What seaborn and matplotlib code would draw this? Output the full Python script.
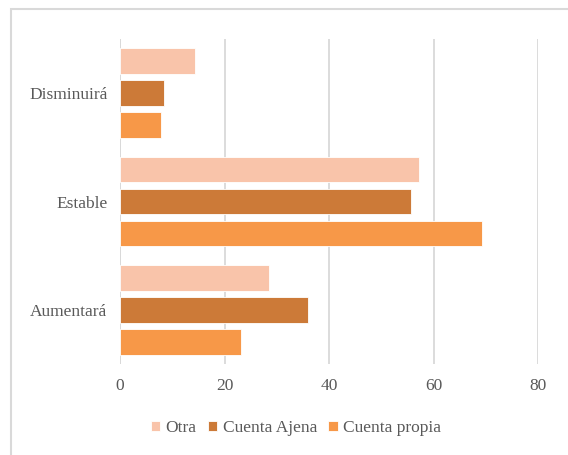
import matplotlib
matplotlib.use("Agg")
import matplotlib.pyplot as plt
import pandas as pd
import seaborn as sns
from matplotlib.patches import Rectangle

categories = ["Disminuirá", "Estable", "Aumentará"]
series_names = ["Otra", "Cuenta Ajena", "Cuenta propia"]
otra = [14.3, 57.2, 28.5]
cuenta_ajena = [8.4, 55.6, 36.0]
cuenta_propia = [7.8, 69.2, 23.1]
x_ticks = [0, 20, 40, 60, 80]
colors = ["#F9C4AA", "#CC7A38", "#F79848"]

df = pd.DataFrame({
    "categoria": categories * 3,
    "serie": [s for s in series_names for _ in categories],
    "valor": otra + cuenta_ajena + cuenta_propia,
})

sns.set_theme(style="white")
plt.rcParams["font.family"] = ["Liberation Serif", "DejaVu Serif"]
text_color = "#595959"
grid_color = "#D9D9D9"

fig = plt.figure(figsize=(5.68, 4.55), dpi=100)
ax = fig.add_axes([120 / 568, 1 - 364 / 455, (538 - 120) / 568, (364 - 39) / 455])

sns.barplot(
    data=df, x="valor", y="categoria", hue="serie",
    order=categories, hue_order=series_names, palette=colors,
    saturation=1, orient="h", width=0.885, gap=0.2, ax=ax, legend=True,
    edgecolor="white", linewidth=0.6,
)

ax.set_xlim(0, 80)
ax.set_xticks(x_ticks)
ax.set_xlabel("")
ax.set_ylabel("")
ax.grid(axis="x", color=grid_color, linewidth=1.3)
ax.set_axisbelow(True)
for s in ax.spines.values():
    s.set_visible(False)
ax.axvline(0, color=grid_color, linewidth=1.3, zorder=0)
ax.tick_params(axis="both", length=0, labelsize=12.5, colors=text_color)
ax.tick_params(axis="x", pad=10)
ax.tick_params(axis="y", pad=9)

handles, labels = ax.get_legend_handles_labels()
ax.get_legend().remove()
fig.legend(
    handles, labels, loc="center", bbox_to_anchor=(296 / 568, 1 - 428 / 455),
    ncol=3, frameon=False, fontsize=12.5, labelcolor=text_color,
    handlelength=0.55, handleheight=0.55, handletextpad=0.3, columnspacing=0.65,
)

fig.patches.append(Rectangle((11 / 568, -0.1), 1.2, 1 - 9 / 455 + 0.1,
                             transform=fig.transFigure, fill=False,
                             edgecolor=grid_color, linewidth=1.5))

fig.savefig("out.png", dpi=100)
